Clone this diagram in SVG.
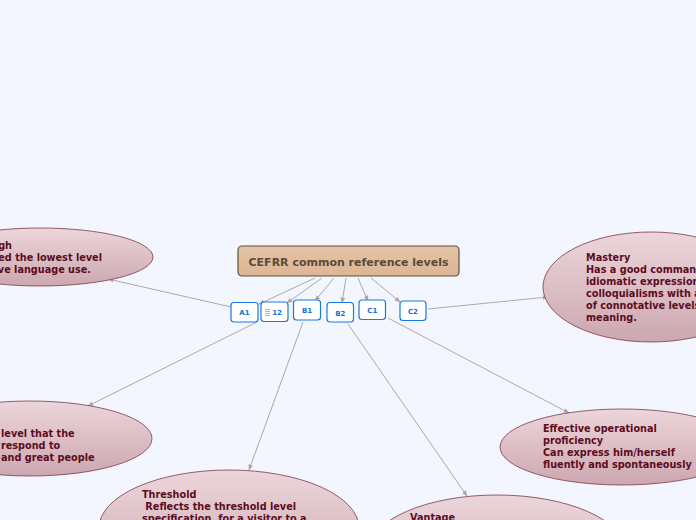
<svg xmlns="http://www.w3.org/2000/svg" width="696" height="520" viewBox="0 0 696 520">
<defs>
<linearGradient id="eg" x1="0" y1="0" x2="0" y2="1">
<stop offset="0" stop-color="#ecd6da"/>
<stop offset="1" stop-color="#cca7af"/>
</linearGradient>
<linearGradient id="cg" x1="0" y1="0" x2="0" y2="1">
<stop offset="0" stop-color="#e6c4a6"/>
<stop offset="1" stop-color="#dcb594"/>
</linearGradient>
<marker id="ah" viewBox="0 0 10 10" refX="9" refY="5" markerWidth="6" markerHeight="6" orient="auto" markerUnits="userSpaceOnUse">
<path d="M0,1 L10,5 L0,9 z" fill="#a8a8a8"/>
</marker>
<style>
.ell{fill:url(#eg);stroke:#7a3848;stroke-width:0.8}
.et{font-family:"DejaVu Sans",Verdana,sans-serif;font-weight:bold;font-size:9.7px;fill:#5c0b22}
.box{fill:#ffffff;stroke:#1a78e0;stroke-width:1.2}
.bt{font-family:"DejaVu Sans",Verdana,sans-serif;font-weight:bold;font-size:7px;fill:#1a6fd0;text-anchor:middle}
.con{stroke:#aaaaaa;stroke-width:1;fill:none;marker-end:url(#ah)}
</style>
</defs>
<rect width="696" height="520" fill="#f3f6fe"/>

<g id="connectors">
<line class="con" x1="315" y1="278" x2="259" y2="304"/>
<line class="con" x1="322" y1="278" x2="287" y2="303"/>
<line class="con" x1="334" y1="278" x2="315" y2="301"/>
<line class="con" x1="346" y1="278" x2="342" y2="303"/>
<line class="con" x1="358" y1="278" x2="368" y2="301"/>
<line class="con" x1="371" y1="278" x2="400" y2="302"/>
<line class="con" x1="231" y1="307" x2="108" y2="279"/>
<line class="con" x1="257" y1="322" x2="88" y2="406"/>
<line class="con" x1="303" y1="322" x2="249" y2="470"/>
<line class="con" x1="348" y1="324" x2="467" y2="496"/>
<line class="con" x1="388" y1="318" x2="569" y2="413"/>
<line class="con" x1="428" y1="309" x2="548" y2="297"/>
</g>

<g id="center">
<rect x="238" y="246" width="221" height="30" rx="4" fill="url(#cg)" stroke="#5e4e3e" stroke-width="1.2"/>
<text x="348.5" y="266" text-anchor="middle" font-family="DejaVu Sans,Verdana,sans-serif" font-weight="bold" font-size="11px" fill="#5a4a3a">CEFRR common reference levels</text>
</g>

<g id="A1"><rect class="box" x="231" y="302.5" width="27" height="19.5" rx="3"/><text class="bt" x="244.5" y="315">A1</text></g>
<g id="A2"><rect class="box" x="261" y="302" width="27" height="19.5" rx="3"/>
<g fill="#9db8e0"><rect x="265" y="309" width="5" height="1"/><rect x="265" y="311" width="5" height="1"/><rect x="265" y="313" width="5" height="1"/><rect x="265" y="315" width="5" height="1"/></g>
<text class="bt" x="277" y="315">12</text></g>
<g id="B1"><rect class="box" x="293.5" y="300" width="27" height="20" rx="3"/><text class="bt" x="307" y="313">B1</text></g>
<g id="B2"><rect class="box" x="327" y="302.5" width="26.5" height="19.5" rx="3"/><text class="bt" x="340.3" y="315.5">B2</text></g>
<g id="C1"><rect class="box" x="359" y="300" width="26.5" height="19.5" rx="3"/><text class="bt" x="372.3" y="312.5">C1</text></g>
<g id="C2"><rect class="box" x="400" y="301" width="26" height="19.5" rx="3"/><text class="bt" x="413" y="313.5">C2</text></g>

<g id="breakthrough">
<ellipse class="ell" cx="40" cy="257" rx="113" ry="29"/>
<text class="et" text-anchor="end"><tspan x="12" y="248.5">Breakthrough</tspan><tspan x="102" y="260.5">Considered the lowest level</tspan><tspan x="91" y="272.5">of generative language use.</tspan></text>
</g>

<g id="waystage">
<ellipse class="ell" cx="30" cy="438.5" rx="122" ry="37.5"/>
<text class="et"><tspan x="1" y="437">level that the</tspan><tspan x="1" y="449">respond to</tspan><tspan x="1" y="461">and great people</tspan></text>
</g>

<g id="threshold">
<ellipse class="ell" cx="229" cy="528" rx="130" ry="58"/>
<text class="et"><tspan x="142" y="498">Threshold</tspan><tspan x="142" y="510"> Reflects the threshold level</tspan><tspan x="142" y="522">specification, for a visitor to a</tspan></text>
</g>

<g id="vantage">
<ellipse class="ell" cx="497" cy="551" rx="128" ry="56"/>
<text class="et"><tspan x="410" y="521">Vantage</tspan></text>
</g>

<g id="effective">
<ellipse class="ell" cx="622" cy="447" rx="122" ry="38"/>
<text class="et"><tspan x="543" y="432">Effective operational</tspan><tspan x="543" y="444">proficiency</tspan><tspan x="543" y="456">Can express him/herself</tspan><tspan x="543" y="468">fluently and spontaneously</tspan></text>
</g>

<g id="mastery">
<ellipse class="ell" cx="651" cy="287" rx="108" ry="55"/>
<text class="et"><tspan x="586" y="261">Mastery</tspan><tspan x="586" y="273">Has a good command of</tspan><tspan x="586" y="285">idiomatic expressions and</tspan><tspan x="586" y="297">colloquialisms with awareness</tspan><tspan x="586" y="309">of connotative levels of</tspan><tspan x="586" y="321">meaning.</tspan></text>
</g>
</svg>
